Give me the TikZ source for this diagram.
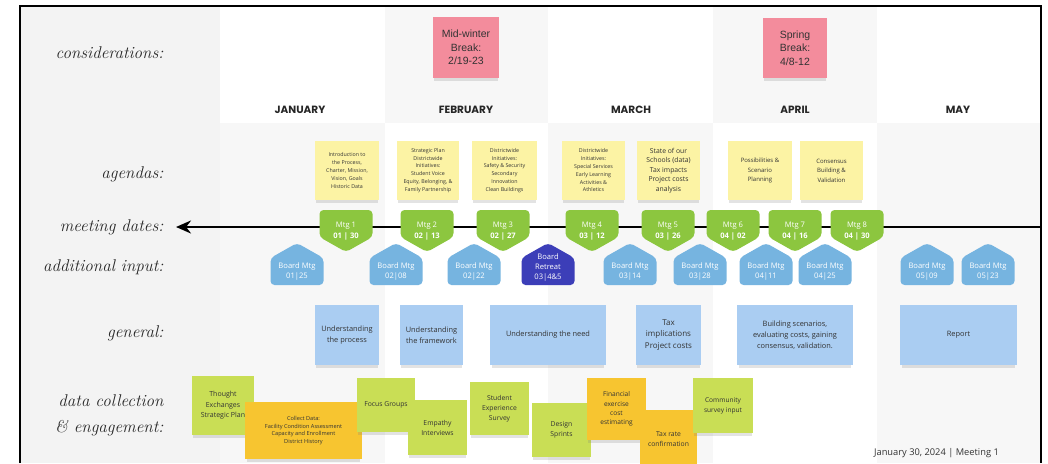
\documentclass[tikz,border=0pt]{standalone}
\usepackage{fontspec}
\setsansfont{Open Sans}
\newfontfamily\monthfont{Poppins}
\newfontfamily\pinkfont{Liberation Sans}
\usetikzlibrary{shadows,arrows.meta}
\definecolor{panelgray}{HTML}{F3F3F3}
\definecolor{colgray}{HTML}{F7F7F7}
\definecolor{pinknote}{HTML}{F38C9C}
\definecolor{agendayellow}{HTML}{FCF3A4}
\definecolor{mtggreen}{HTML}{8CC63F}
\definecolor{boardblue}{HTML}{76B4E0}
\definecolor{retreatblue}{HTML}{3C3EB8}
\definecolor{genblue}{HTML}{AACDF2}
\definecolor{datagreen}{HTML}{C9DE55}
\definecolor{datagold}{HTML}{F7C530}
\definecolor{inktext}{HTML}{333333}
\newcommand{\mtgnode}[4]{%
  \fill[mtggreen, rounded corners=4pt] ({#2-26.5},210) -- ({#2+26.5},210) -- ({#2+26.5},237) -- (#2,252) -- ({#2-26.5},237) -- cycle;
  \node[mtgtext] (#1) at (#2,231) {#3\\\textbf{#4}};}
\newcommand{\boardnode}[4]{%
  \fill[#3, rounded corners=4pt] ({#2-26.5},285) -- ({#2-26.5},258) -- (#2,243) -- ({#2+26.5},258) -- ({#2+26.5},285) -- cycle;
  \node[boardtext] (#1) at (#2,272) {#4};}
\begin{document}
\begin{tikzpicture}[x=1pt,y=-1pt,
  rowlabel/.style={anchor=east, text=black!85, font=\itshape\fontsize{17}{20}\selectfont},
  month/.style={font=\monthfont\bfseries\fontsize{10.5}{12}\selectfont, text=black!85},
  sticky/.style={inner sep=1pt, align=center, text=inktext,
    drop shadow={opacity=0.22, shadow xshift=0pt, shadow yshift=-4pt, shadow scale=0.96}},
  pink/.style={sticky, fill=pinknote, font=\pinkfont\fontsize{10.5}{13.5}\selectfont, text=black!80},
  agenda/.style={sticky, fill=agendayellow, minimum height=59pt, font=\sffamily\fontsize{5.3}{7.8}\selectfont},
  agendabig/.style={agenda, font=\sffamily\fontsize{6.8}{9.4}\selectfont},
  general/.style={sticky, fill=genblue, minimum height=60pt, font=\sffamily\fontsize{7.4}{11}\selectfont},
  datanote/.style={sticky, font=\sffamily\fontsize{6.8}{10}\selectfont},
  mtgtext/.style={align=center, text=white, inner sep=0pt, font=\sffamily\fontsize{7.6}{10.5}\selectfont},
  boardtext/.style={align=center, text=white, inner sep=0pt, font=\sffamily\fontsize{7.6}{10}\selectfont},
  timeline/.style={line width=2.6pt, {Stealth[length=15pt,width=13pt]}-}
]
\useasboundingbox (0,0) rectangle (1048,463);
\fill[white] (0,0) rectangle (1048,463);
% backgrounds
\fill[panelgray] (20,6) rectangle (220,463);
\fill[colgray] (220,123) rectangle (385,463);
\fill[colgray] (385,6) rectangle (548,123);
\fill[colgray] (548,123) rectangle (713,463);
\fill[colgray] (713,6) rectangle (877,123);
\fill[colgray] (877,123) rectangle (1041,463);
\draw[line width=2pt] (20,463) -- (20,6) -- (1041,6) -- (1041,463);

% row labels
\node[rowlabel] (lcons) at (167,53) {considerations:};
\node[rowlabel] (lagenda) at (167,174) {agendas:};
\node[rowlabel] (lmeet) at (167,227) {meeting dates:};
\node[rowlabel] (ladd) at (167,267) {additional input:};
\node[rowlabel] (lgen) at (167,333) {general:};
\node[rowlabel] (ldata) at (167,401) {data collection};
\node[rowlabel] (leng) at (167,428) {\&\ engagement:};

% months
\node[month] (mjan) at (300,110) {JANUARY};
\node[month] (mfeb) at (466,110) {FEBRUARY};
\node[month] (mmar) at (631,110) {MARCH};
\node[month] (mapr) at (795,110) {APRIL};
\node[month] (mmay) at (958,110) {MAY};

% considerations
\node[pink, minimum width=66pt, minimum height=61pt] (midwinter) at (466,47.5) {Mid-winter\\Break:\\2/19-23};
\node[pink, minimum width=64pt, minimum height=60pt] (spring) at (795,48) {Spring\\Break:\\4/8-12};

% agendas
\node[agenda, minimum width=64pt] (ag1) at (347,170.5) {Introduction to\\the Process,\\Charter, Mission,\\Vision, Goals\\Historic Data};
\node[agenda, minimum width=62pt] (ag2) at (428,170.5) {Strategic Plan\\Districtwide\\Initiatives:\\Student Voice\\Equity, Belonging, \&\\Family Partnership};
\node[agenda, minimum width=65pt] (ag3) at (504.5,170.5) {Districtwide\\Initiatives:\\Safety \& Security\\Secondary\\Innovation\\Clean Buildings};
\node[agenda, minimum width=63pt] (ag4) at (593.5,170.5) {Districtwide\\Initiatives:\\Special Services\\Early Learning\\Activities \&\\Athletics};
\node[agendabig, minimum width=63pt] (ag5) at (668.5,170.5) {State of our\\Schools (data)\\Tax impacts\\Project costs\\analysis};
\node[agenda, minimum width=64pt, font=\sffamily\fontsize{6}{9.4}\selectfont] (ag6) at (760,170.5) {Possibilities \&\\Scenario\\Planning};
\node[agenda, minimum width=63pt, font=\sffamily\fontsize{6}{9.4}\selectfont] (ag7) at (831.5,170.5) {Consensus\\Building \&\\Validation};

% timeline
\coordinate (tlR) at (1041,227);
\coordinate (tlL) at (176,227);
\draw[timeline] (tlL) -- (tlR);

% meetings
\mtgnode{m1}{346}{Mtg 1}{01 | 30}
\mtgnode{m2}{427}{Mtg 2}{02 | 13}
\mtgnode{m3}{503}{Mtg 3}{02 | 27}
\mtgnode{m4}{592}{Mtg 4}{03 | 12}
\mtgnode{m5}{668}{Mtg 5}{03 | 26}
\mtgnode{m6}{733}{Mtg 6}{04 | 02}
\mtgnode{m7}{795}{Mtg 7}{04 | 16}
\mtgnode{m8}{857}{Mtg 8}{04 | 30}

% additional input
\boardnode{b1}{297}{boardblue}{Board Mtg\\01|25}
\boardnode{b2}{396}{boardblue}{Board Mtg\\02|08}
\boardnode{b3}{474}{boardblue}{Board Mtg\\02|22}
\fill[retreatblue, rounded corners=4pt] (521.5,285) -- (521.5,258) -- (548,243) -- (574.5,258) -- (574.5,285) -- cycle;
\node[boardtext] (retreat) at (548,268) {Board\\Retreat\\03|4\&5};
\boardnode{b5}{630}{boardblue}{Board Mtg\\03|14}
\boardnode{b6}{700}{boardblue}{Board Mtg\\03|28}
\boardnode{b7}{766}{boardblue}{Board Mtg\\04|11}
\boardnode{b8}{825}{boardblue}{Board Mtg\\04|25}
\boardnode{b9}{927}{boardblue}{Board Mtg\\05|09}
\boardnode{b10}{988}{boardblue}{Board Mtg\\05|23}

% general
\node[general, minimum width=64pt] (g1) at (347,335) {Understanding\\the process};
\node[general, minimum width=63pt] (g2) at (431.5,335) {Understanding\\the framework};
\node[general, minimum width=116pt] (g3) at (548,335) {Understanding the need};
\node[general, minimum width=65pt, font=\sffamily\fontsize{8}{11.5}\selectfont] (g4) at (668.5,335) {Tax\\implications\\Project costs};
\node[general, minimum width=116pt] (g5) at (795,335) {Building scenarios,\\evaluating costs, gaining\\consensus, validation.};
\node[general, minimum width=117pt] (g6) at (958.5,335) {Report};

% data collection & engagement
\node[datanote, fill=datagreen, minimum width=62pt, minimum height=59pt, font=\sffamily\fontsize{7}{10.5}\selectfont] (d1) at (223,405.5) {Thought\\Exchanges\\Strategic Plan};
\node[datanote, fill=datagold, minimum width=117pt, minimum height=57pt, font=\sffamily\fontsize{5.6}{7.8}\selectfont] (d2) at (303.5,430.5) {Collect Data:\\Facility Condition Assessment\\Capacity and Enrollment\\District History};
\node[datanote, fill=datagreen, minimum width=58pt, minimum height=54pt] (d3) at (386,405) {Focus Groups};
\node[datanote, fill=datagreen, minimum width=59pt, minimum height=55pt] (d4) at (437.5,427.5) {Empathy\\Interviews};
\node[datanote, fill=datagreen, minimum width=59pt, minimum height=53pt] (d5) at (499.5,408.5) {Student\\Experience\\Survey};
\node[datanote, fill=datagreen, minimum width=59pt, minimum height=54pt] (d6) at (561.5,430) {Design\\Sprints};
\node[datanote, fill=datagold, minimum width=59pt, minimum height=62pt, font=\sffamily\fontsize{6.6}{9.2}\selectfont] (d7) at (616.5,409) {Financial\\exercise\\cost\\estimating};
\node[datanote, fill=datagold, minimum width=57pt, minimum height=58pt] (d8) at (668.5,439) {Tax rate\\confirmation};
\node[datanote, fill=datagreen, minimum width=60pt, minimum height=55pt, font=\sffamily\fontsize{6.6}{10}\selectfont] (d9) at (723,405.5) {Community\\survey input};

% footer
\node[anchor=east, inner sep=0pt, text=inktext, font=\sffamily\fontsize{9.3}{11}\selectfont] (footer) at (999,453) {January 30, 2024 | Meeting 1};
\end{tikzpicture}
\end{document}
